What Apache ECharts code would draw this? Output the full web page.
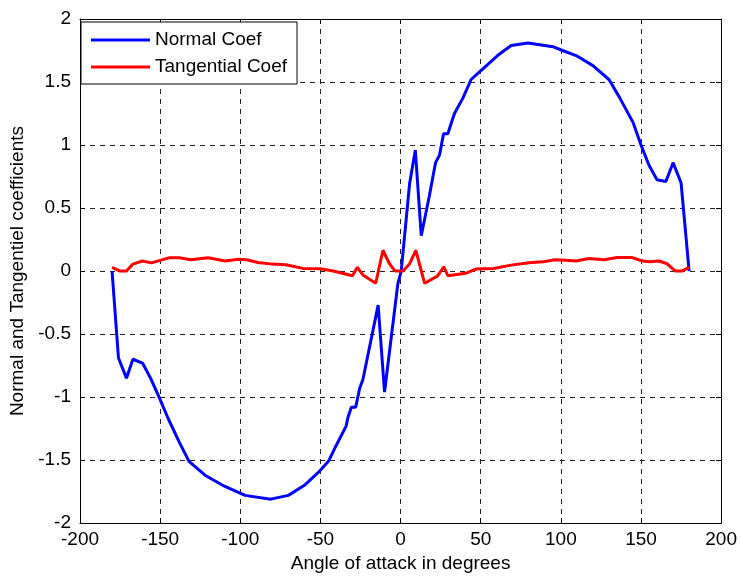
<!DOCTYPE html>
<html>
<head>
<meta charset="utf-8">
<script src="https://cdn.jsdelivr.net/npm/echarts@6/dist/echarts.min.js"></script>
<style>
  html, body { margin: 0; padding: 0; background: #fff; }
  #chart { width: 740px; height: 578px; }
</style>
</head>
<body>
<div id="chart"></div>
<script>
// Normal coefficient (blue)
const normalAngle = [-180, -176, -171, -167, -161, -156, -151, -145, -138, -132, -122, -111, -97, -81, -70, -60, -51.5, -45, -40, -34, -32.8, -30.7, -28, -25.5, -23.5, -14, -10, -1.7, 0.4, 5.6, 9.2, 12.9, 18, 21.8, 24.3, 26.8, 29.5, 33.6, 38.8, 44, 51, 60.5, 69, 79.5, 95, 101, 109.5, 120, 130, 136.5, 145, 150, 155, 160, 165.5, 170, 175, 180];
const normalCoef = [0, -0.69, -0.85, -0.70, -0.73, -0.85, -0.99, -1.17, -1.36, -1.51, -1.62, -1.70, -1.78, -1.81, -1.78, -1.70, -1.60, -1.51, -1.38, -1.23, -1.16, -1.08, -1.08, -0.93, -0.86, -0.27, -0.96, -0.10, 0, 0.69, 0.96, 0.28, 0.60, 0.86, 0.92, 1.09, 1.09, 1.25, 1.37, 1.52, 1.60, 1.71, 1.79, 1.81, 1.78, 1.75, 1.71, 1.63, 1.52, 1.38, 1.18, 1.0, 0.84, 0.725, 0.71, 0.86, 0.70, 0.0];

// Tangential coefficient (red)
const tangAngle = [-180, -175, -171, -167, -161, -155.5, -150, -144.5, -138, -131, -120, -109.5, -101, -96, -89, -80, -71.5, -61, -50, -42, -30, -27, -23.5, -15.5, -11, -7, -3.5, 1.5, 5.6, 9.5, 15, 23, 27, 29.5, 40.5, 47, 58, 69, 80, 89, 96, 103, 109.5, 117.5, 127, 135, 144.5, 151, 155.5, 161, 166, 171.5, 175.5, 180];
const tangCoef = [0.03, 0, 0, 0.055, 0.08, 0.065, 0.085, 0.105, 0.105, 0.09, 0.105, 0.08, 0.094, 0.09, 0.068, 0.055, 0.05, 0.021, 0.018, 0, -0.037, 0.03, -0.031, -0.097, 0.165, 0.06, 0, 0, 0.056, 0.165, -0.097, -0.04, 0.034, -0.037, -0.018, 0.016, 0.021, 0.047, 0.065, 0.073, 0.09, 0.086, 0.08, 0.1, 0.09, 0.107, 0.107, 0.08, 0.073, 0.08, 0.06, 0, 0, 0.03];

const seriesNames = ['Normal Coef', 'Tangential Coef'];

const font = '"Liberation Sans", Arial, sans-serif';
const zip = (xs, ys) => xs.map((x, i) => [x, ys[i]]);

const chart = echarts.init(document.getElementById('chart'));

const gridLine = { show: true, lineStyle: { color: '#222', type: [5, 5], width: 1 } };
const frame = { show: true, onZero: false, lineStyle: { color: '#000', width: 1 } };
const inTick = { show: true, inside: true, length: 5, lineStyle: { color: '#000' } };

chart.setOption({
  animation: false,
  backgroundColor: '#fff',
  grid: { left: 80, right: 18, top: 19, bottom: 51, containLabel: false },
  legend: {
    data: seriesNames,
    orient: 'vertical',
    left: 81,
    top: 22,
    padding: [8, 10, 7, 10],
    icon: 'rect',
    itemWidth: 59,
    itemHeight: 3,
    itemGap: 7,
    backgroundColor: '#fff',
    borderColor: '#000',
    borderWidth: 1,
    textStyle: { fontFamily: font, fontSize: 19, color: '#000', lineHeight: 20 }
  },
  xAxis: [
    {
      type: 'value',
      min: -200, max: 200, interval: 50,
      name: 'Angle of attack in degrees',
      nameLocation: 'middle',
      nameGap: 30,
      nameTextStyle: { fontFamily: font, fontSize: 19, color: '#000' },
      axisLine: frame,
      axisTick: inTick,
      axisLabel: { fontFamily: font, fontSize: 19, color: '#000', margin: 7 },
      splitLine: gridLine
    },
    {
      type: 'value', position: 'top',
      min: -200, max: 200, interval: 50,
      axisLine: frame, axisTick: inTick,
      axisLabel: { show: false }, splitLine: { show: false }
    }
  ],
  yAxis: [
    {
      type: 'value',
      min: -2, max: 2, interval: 0.5,
      name: 'Normal and Tangentiel coefficients',
      nameLocation: 'middle',
      nameGap: 53,
      nameTextStyle: { fontFamily: font, fontSize: 19, color: '#000' },
      axisLine: frame,
      axisTick: inTick,
      axisLabel: { fontFamily: font, fontSize: 19, color: '#000', margin: 9 },
      splitLine: gridLine
    },
    {
      type: 'value', position: 'right',
      min: -2, max: 2, interval: 0.5,
      axisLine: frame, axisTick: inTick,
      axisLabel: { show: false }, splitLine: { show: false }
    }
  ],
  series: [
    {
      name: seriesNames[0],
      type: 'line',
      data: zip(normalAngle, normalCoef),
      symbol: 'none',
      lineStyle: { color: '#0000ff', width: 3 },
      itemStyle: { color: '#0000ff' },
      z: 3
    },
    {
      name: seriesNames[1],
      type: 'line',
      data: zip(tangAngle, tangCoef),
      symbol: 'none',
      lineStyle: { color: '#ff0000', width: 3 },
      itemStyle: { color: '#ff0000' },
      z: 4
    }
  ]
});
</script>
</body>
</html>
